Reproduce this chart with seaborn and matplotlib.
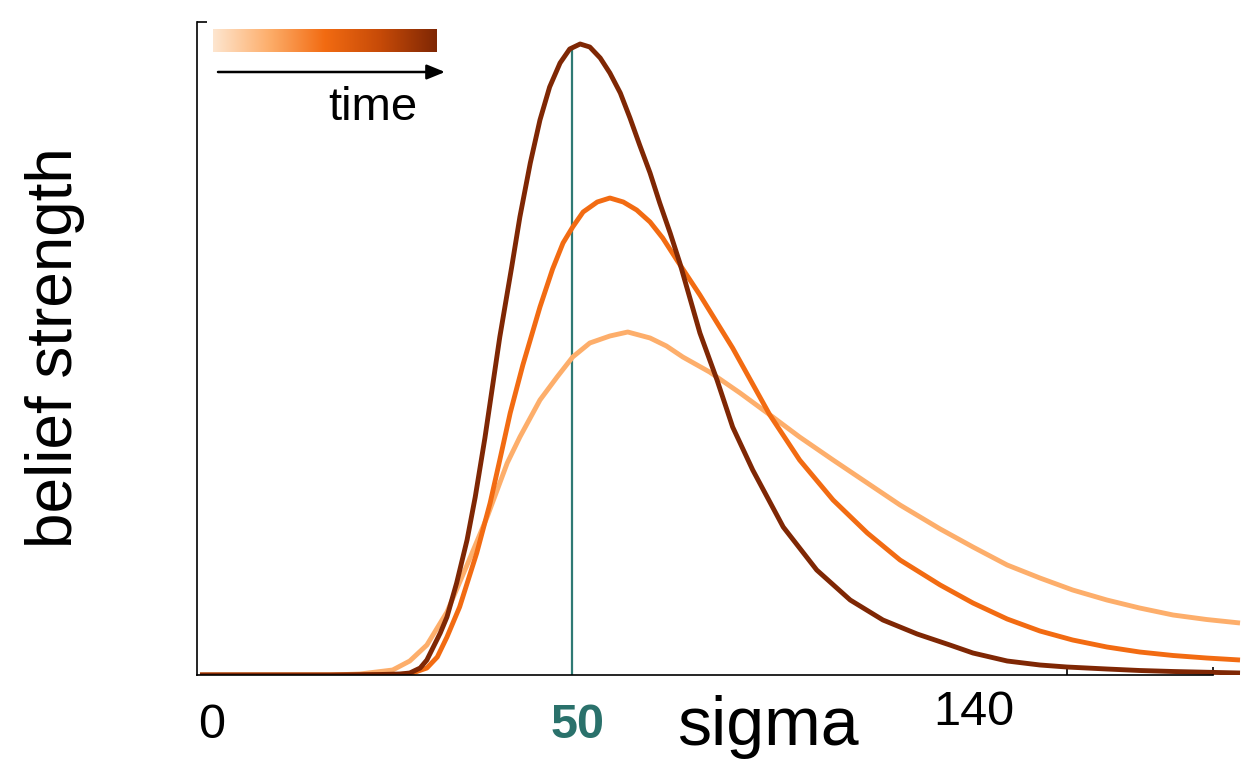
import numpy as np
import pandas as pd
import matplotlib
matplotlib.use("Agg")
import matplotlib.pyplot as plt
from matplotlib.colors import LinearSegmentedColormap
import seaborn as sns

# ── Data ──────────────────────────────────────────────────────────────────────
SIGMA_EARLY = [0.0, 17.5, 21.5, 25.9, 28.2, 30.5, 33.2, 35.9, 38.6, 41.3, 43.0, 45.7,
               48.0, 50.1, 52.4, 55.1, 57.5, 60.5, 62.7, 64.9, 68.5, 72.6, 77.0, 80.6,
               85.1, 89.7, 94.1, 99.5, 103.9, 108.5, 112.9, 117.3, 121.9, 126.3, 130.8,
               135.3, 139.8]
BELIEF_EARLY = [0, 0, 0.01, 0.05, 0.14, 0.30, 0.63, 1.10, 1.58, 2.12, 2.38, 2.75,
                2.98, 3.18, 3.32, 3.39, 3.43, 3.37, 3.29, 3.18, 3.03, 2.82, 2.58, 2.38,
                2.15, 1.92, 1.70, 1.46, 1.28, 1.10, 0.97, 0.85, 0.75, 0.67, 0.60,
                0.555, 0.52]

SIGMA_MID = [0.0, 17.5, 24.2, 28.2, 30.5, 31.9, 33.2, 34.9, 37.2, 39.0, 40.3, 41.7,
             43.4, 45.7, 47.4, 48.8, 50.1, 51.5, 53.4, 55.1, 56.9, 58.7, 60.5, 62.2,
             64.1, 67.2, 71.6, 76.6, 80.6, 85.1, 89.7, 94.1, 99.5, 103.9, 108.5,
             112.9, 117.3, 121.9, 126.3, 130.8, 135.3, 139.8]
BELIEF_MID = [0, 0, 0, 0.01, 0.07, 0.18, 0.38, 0.68, 1.22, 1.72, 2.15, 2.62,
              3.10, 3.68, 4.06, 4.32, 4.48, 4.63, 4.73, 4.77, 4.73, 4.65, 4.53, 4.37,
              4.15, 3.80, 3.27, 2.60, 2.15, 1.75, 1.42, 1.15, 0.90, 0.72, 0.56,
              0.44, 0.35, 0.28, 0.23, 0.195, 0.17, 0.15]

SIGMA_LATE = [0.0, 17.5, 24.2, 26.9, 28.2, 29.6, 30.5, 31.3, 32.3, 33.2, 34.5, 35.9,
              37.0, 38.3, 40.3, 41.9, 43.0, 44.4, 45.7, 47.0, 48.4, 49.7, 51.1, 52.4,
              53.8, 55.1, 56.5, 57.8, 59.1, 60.5, 61.8, 63.2, 64.5, 67.2, 69.5, 71.6,
              74.3, 78.4, 82.9, 87.4, 91.8, 96.4, 100.8, 103.9, 108.5, 112.9, 116.5,
              121.9, 126.3, 130.8, 139.8]
BELIEF_LATE = [0, 0, 0.005, 0.01, 0.02, 0.07, 0.15, 0.27, 0.42, 0.58, 0.92, 1.35,
               1.78, 2.37, 3.38, 4.08, 4.58, 5.12, 5.55, 5.88, 6.12, 6.26, 6.31, 6.28,
               6.17, 6.02, 5.82, 5.57, 5.30, 5.02, 4.72, 4.42, 4.12, 3.42, 2.95, 2.48,
               2.05, 1.48, 1.05, 0.75, 0.55, 0.41, 0.30, 0.22, 0.14, 0.10, 0.08,
               0.06, 0.045, 0.035, 0.02]

STAGES = ["early", "mid", "late"]
STAGE_COLORS = ["#fdae6b", "#f26b12", "#7f2704"]
TRUE_SIGMA = 50
XTICK_LABELS = ["0", "50", "140"]

# ── Style ─────────────────────────────────────────────────────────────────────
sns.set_style("ticks")
plt.rcParams["font.family"] = ["Liberation Sans", "DejaVu Sans"]
plt.rcParams["text.color"] = "black"

df = pd.concat([
    pd.DataFrame({"sigma": SIGMA_EARLY, "belief": BELIEF_EARLY, "stage": "early"}),
    pd.DataFrame({"sigma": SIGMA_MID, "belief": BELIEF_MID, "stage": "mid"}),
    pd.DataFrame({"sigma": SIGMA_LATE, "belief": BELIEF_LATE, "stage": "late"}),
], ignore_index=True)

W, H = 1243, 759
fig = plt.figure(figsize=(W / 100, H / 100), dpi=100)
ax = fig.add_axes([197 / W, 84 / H, (W - 197) / W, 653 / H])

sns.lineplot(data=df, x="sigma", y="belief", hue="stage", hue_order=STAGES,
             palette=STAGE_COLORS, estimator=None, sort=False, linewidth=3.5,
             solid_joinstyle="round", solid_capstyle="butt",
             legend=False, ax=ax)

# reference line at the true sigma, up to the late curve
top = np.interp(TRUE_SIGMA, SIGMA_LATE, BELIEF_LATE)
ax.vlines(TRUE_SIGMA, 0, top, color="#2f7a74", lw=1.6, zorder=1)

ax.set_xlim(-0.4, 140.2)
ax.set_ylim(0, 6.53)
ax.set_xlabel("")
ax.set_ylabel("")

sns.despine(ax=ax)
ax.spines["bottom"].set_bounds(-0.4, 136.2)
for side in ["left", "bottom"]:
    ax.spines[side].set_linewidth(1.2)
    ax.spines[side].set_color("black")

ax.set_xticks([])
ax.set_xticks([116.5, 136.2], minor=True)
ax.tick_params(axis="x", which="minor", direction="in", length=6, width=1.2,
               color="black", labelbottom=False)
ax.set_yticks([6.53])
ax.tick_params(axis="y", direction="in", length=7, width=1.2, color="black",
               labelleft=False)

xt = ax.get_xaxis_transform()
ax.text(-0.3, -0.0965, XTICK_LABELS[0], transform=xt, ha="left", va="baseline",
        fontsize=35, color="black")
ax.text(50.8, -0.0965, XTICK_LABELS[1], transform=xt, ha="center", va="baseline",
        fontsize=35, color="#2a716b", fontweight="bold")
ax.text(104.0, -0.0766, XTICK_LABELS[2], transform=xt, ha="center", va="baseline",
        fontsize=35, color="black")

fig.text(768 / W, (H - 745) / H, "sigma", ha="center", va="baseline", fontsize=49)
fig.text(55 / W, (H - 348) / H, "belief strength", rotation=90, ha="center",
         va="center", fontsize=46)

# time legend: gradient bar + arrow
cax = fig.add_axes([213 / W, (H - 52) / H, 224 / W, 23 / H])
cmap = LinearSegmentedColormap.from_list(
    "time", ["#fde6cf", "#fdae6b", "#f26b12", "#c64a08", "#7f2704"])
cax.imshow(np.linspace(0, 1, 256)[None, :], aspect="auto", cmap=cmap)
cax.set_axis_off()

ax.annotate("", xy=(445 / W, (H - 72) / H), xytext=(218 / W, (H - 72) / H),
            xycoords="figure fraction", textcoords="figure fraction",
            arrowprops=dict(arrowstyle="-|>,head_length=1.1,head_width=0.45",
                            color="black", lw=1.8, shrinkA=0, shrinkB=0))
fig.text(373 / W, (H - 120) / H, "time", ha="center", va="baseline", fontsize=34)

fig.savefig("out.png", dpi=100)
